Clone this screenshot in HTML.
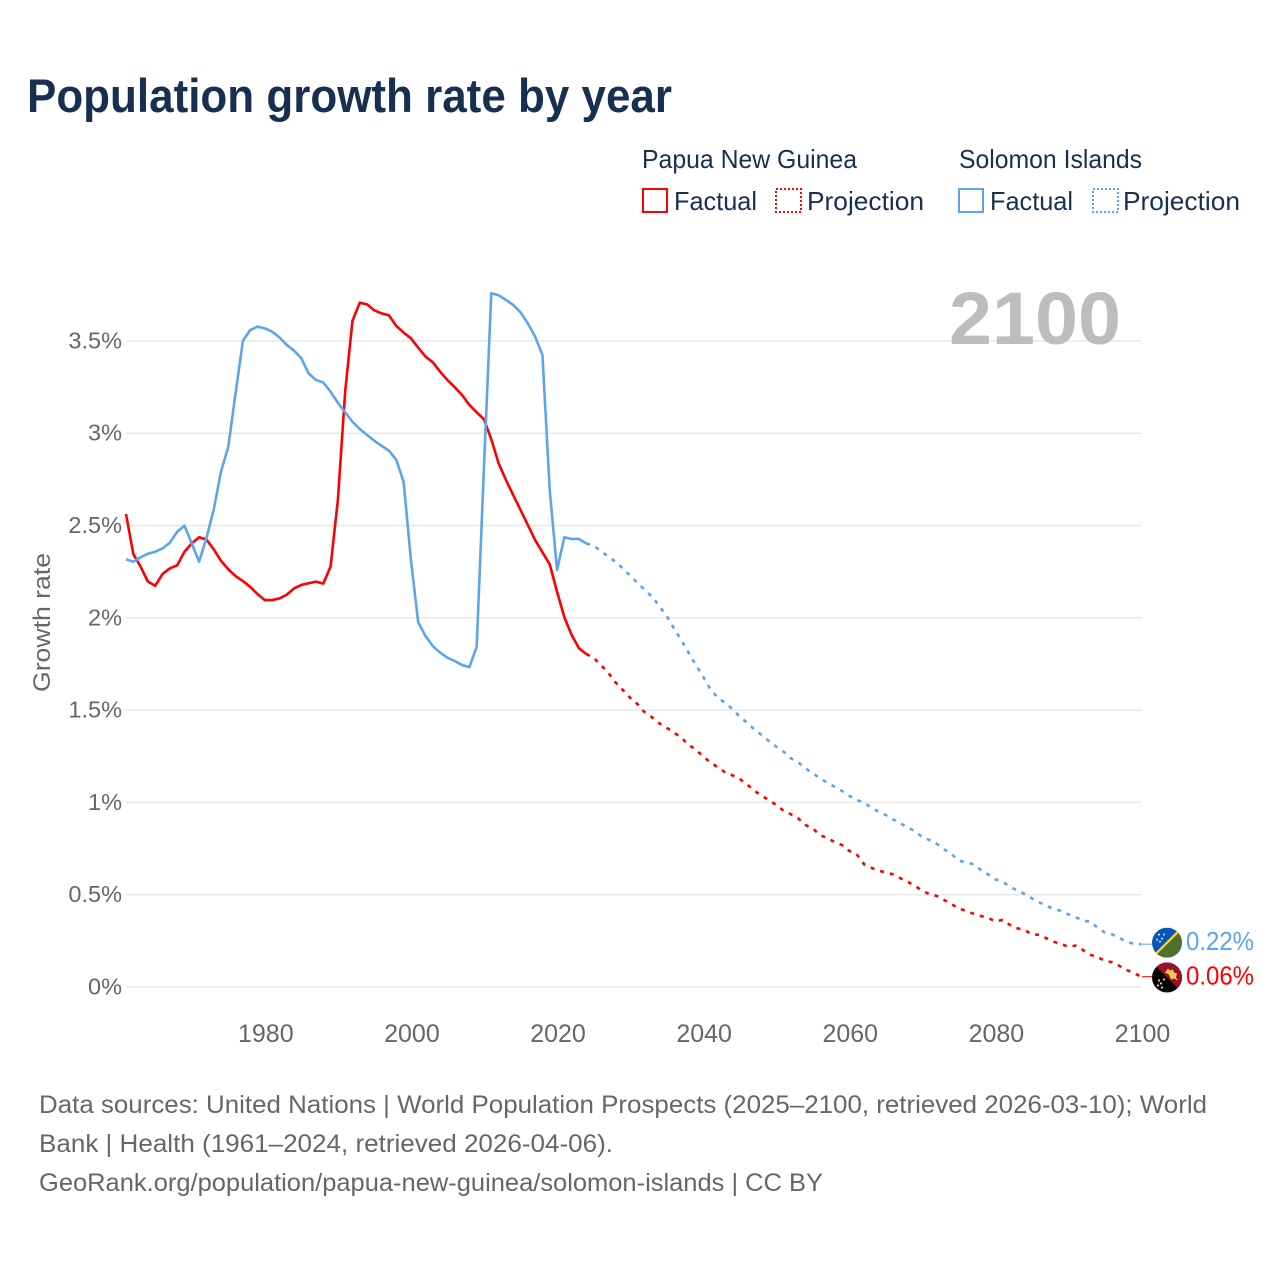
<!DOCTYPE html>
<html lang="en">
<head>
<meta charset="utf-8">
<title>Population growth rate by year</title>
<style>
  html, body { margin: 0; padding: 0; background: #fff; }
  svg { display: block; font-family: "Liberation Sans", sans-serif; }
</style>
</head>
<body>
<svg id="chart" xmlns="http://www.w3.org/2000/svg" width="1280" height="1280" viewBox="0 0 1280 1280">
  <rect width="1280" height="1280" fill="#ffffff"/>
  <text x="27" y="112" font-size="47" font-weight="700" fill="#18304f" textLength="645" lengthAdjust="spacingAndGlyphs">Population growth rate by year</text>

  <g font-size="26" fill="#18304f">
    <text x="642" y="168" textLength="215" lengthAdjust="spacingAndGlyphs">Papua New Guinea</text>
    <text x="959" y="168" textLength="183" lengthAdjust="spacingAndGlyphs">Solomon Islands</text>
    <rect x="643" y="189" width="24" height="23" fill="none" stroke="#ff0000" stroke-width="2"/>
    <text x="674" y="210" textLength="83" lengthAdjust="spacingAndGlyphs">Factual</text>
    <rect x="776" y="189" width="25" height="23" fill="none" stroke="#ff0000" stroke-width="2" stroke-dasharray="2 2"/>
    <text x="807" y="210" textLength="117" lengthAdjust="spacingAndGlyphs">Projection</text>
    <rect x="959" y="189" width="24" height="23" fill="none" stroke="#5ca5ec" stroke-width="2"/>
    <text x="990" y="210" textLength="83" lengthAdjust="spacingAndGlyphs">Factual</text>
    <rect x="1093" y="189" width="25" height="23" fill="none" stroke="#5ca5ec" stroke-width="2" stroke-dasharray="2 2"/>
    <text x="1123" y="210" textLength="117" lengthAdjust="spacingAndGlyphs">Projection</text>
  </g>

  <g id="grid"></g>
  <text x="949" y="344" font-size="74" font-weight="700" fill="#bdbdbd" textLength="172" lengthAdjust="spacingAndGlyphs">2100</text>
  <g id="yticks" font-size="23.5" fill="#666666" text-anchor="end"></g>
  <g id="xticks" font-size="25" fill="#666666" text-anchor="middle"></g>
  <text transform="translate(50 692) rotate(-90)" font-size="24" fill="#666666" textLength="139" lengthAdjust="spacingAndGlyphs">Growth rate</text>
  <g id="lines" fill="none" stroke-width="2.6" stroke-linejoin="round"></g>

  <defs>
    <clipPath id="flag-clip"><circle cx="0" cy="0" r="15"/></clipPath>
  </defs>
  <g id="flag-si">
    <g clip-path="url(#flag-clip)">
      <rect x="-15" y="-15" width="30" height="30" fill="#0a55b8"/>
      <polygon points="15,-15 15,15 -15,15" fill="#4d722c"/>
      <line x1="-15" y1="15" x2="15" y2="-15" stroke="#f5d53a" stroke-width="2.2"/>
      <circle cx="-8" cy="-8" r="1" fill="#dfe9f5"/><circle cx="-3" cy="-8" r="1" fill="#dfe9f5"/>
      <circle cx="-10" cy="-3" r="1" fill="#dfe9f5"/><circle cx="-5" cy="-4" r="1" fill="#dfe9f5"/><circle cx="-7" cy="-1" r="1" fill="#dfe9f5"/>
    </g>
  </g>
  <g id="flag-png">
    <g clip-path="url(#flag-clip)">
      <rect x="-15" y="-15" width="30" height="30" fill="#050505"/>
      <polygon points="-15,-15 15,-15 15,15" fill="#98102e"/>
      <polygon points="-2,-5 1,-9 3,-7 6,-8 7,-5 10,-4 9,0 11,3 7,1 4,2 2,-3" fill="#f2c84b"/>
      <circle cx="-8" cy="3" r="1.1" fill="#d5d5d5"/><circle cx="-3" cy="2" r="1.1" fill="#d5d5d5"/>
      <circle cx="-6" cy="6" r="1.1" fill="#d5d5d5"/><circle cx="-9" cy="8" r="1.1" fill="#d5d5d5"/><circle cx="-5" cy="10" r="1.1" fill="#d5d5d5"/>
    </g>
  </g>
  <g id="end-labels" font-size="26"></g>

  <g font-size="25" fill="#666666">
    <text x="39" y="1113" textLength="1168" lengthAdjust="spacingAndGlyphs">Data sources: United Nations | World Population Prospects (2025–2100, retrieved 2026-03-10); World</text>
    <text x="39" y="1152" textLength="574" lengthAdjust="spacingAndGlyphs">Bank | Health (1961–2024, retrieved 2026-04-06).</text>
    <text x="39" y="1191" textLength="784" lengthAdjust="spacingAndGlyphs">GeoRank.org/population/papua-new-guinea/solomon-islands | CC BY</text>
  </g>
</svg>
<script>
const factualYears = [1961,1962,1963,1964,1965,1966,1967,1968,1969,1970,1971,1972,1973,1974,1975,1976,1977,1978,1979,1980,1981,1982,1983,1984,1985,1986,1987,1988,1989,1990,1991,1992,1993,1994,1995,1996,1997,1998,1999,2000,2001,2002,2003,2004,2005,2006,2007,2008,2009,2010,2011,2012,2013,2014,2015,2016,2017,2018,2019,2020,2021,2022,2023,2024];
const projectionYears = [2024,2025,2026,2027,2028,2029,2030,2031,2032,2033,2034,2035,2036,2037,2038,2039,2040,2041,2042,2043,2044,2045,2046,2047,2048,2049,2050,2051,2052,2053,2054,2055,2056,2057,2058,2059,2060,2061,2062,2063,2064,2065,2066,2067,2068,2069,2070,2071,2072,2073,2074,2075,2076,2077,2078,2079,2080,2081,2082,2083,2084,2085,2086,2087,2088,2089,2090,2091,2092,2093,2094,2095,2096,2097,2098,2099,2100];
const pngFactual = [2.562,2.346,2.277,2.196,2.174,2.237,2.268,2.284,2.358,2.403,2.436,2.425,2.371,2.309,2.263,2.226,2.199,2.168,2.129,2.096,2.096,2.105,2.125,2.159,2.178,2.187,2.196,2.185,2.277,2.638,3.225,3.609,3.707,3.698,3.665,3.649,3.638,3.581,3.545,3.514,3.463,3.415,3.384,3.333,3.288,3.249,3.207,3.153,3.113,3.075,2.967,2.837,2.747,2.665,2.584,2.503,2.421,2.355,2.29,2.141,2.003,1.907,1.835,1.804];
const pngProjection = [1.804,1.784,1.744,1.703,1.65,1.609,1.567,1.533,1.488,1.461,1.428,1.405,1.378,1.352,1.311,1.287,1.248,1.217,1.19,1.163,1.147,1.127,1.098,1.063,1.036,1.013,0.986,0.955,0.936,0.914,0.878,0.859,0.823,0.807,0.785,0.769,0.737,0.72,0.666,0.646,0.63,0.621,0.61,0.589,0.57,0.547,0.522,0.502,0.493,0.471,0.448,0.426,0.412,0.397,0.385,0.374,0.356,0.363,0.336,0.318,0.309,0.285,0.283,0.264,0.245,0.233,0.218,0.224,0.2,0.175,0.161,0.142,0.134,0.114,0.092,0.074,0.056];
const siFactual = [2.317,2.304,2.328,2.347,2.358,2.376,2.407,2.466,2.499,2.403,2.304,2.431,2.584,2.792,2.927,3.216,3.5,3.559,3.577,3.568,3.55,3.519,3.478,3.447,3.406,3.324,3.288,3.275,3.225,3.165,3.113,3.062,3.023,2.99,2.959,2.931,2.905,2.855,2.737,2.313,1.975,1.901,1.847,1.811,1.784,1.766,1.744,1.733,1.843,2.819,3.758,3.747,3.722,3.695,3.655,3.595,3.523,3.424,2.692,2.259,2.436,2.427,2.427,2.403];
const siProjection = [2.403,2.39,2.363,2.331,2.304,2.268,2.228,2.19,2.151,2.114,2.064,2.01,1.943,1.88,1.811,1.744,1.681,1.613,1.567,1.54,1.506,1.464,1.432,1.396,1.365,1.333,1.302,1.275,1.239,1.217,1.185,1.158,1.13,1.107,1.085,1.062,1.036,1.013,1.0,0.971,0.95,0.932,0.908,0.887,0.863,0.845,0.811,0.796,0.775,0.746,0.72,0.684,0.675,0.665,0.634,0.61,0.583,0.57,0.543,0.522,0.504,0.48,0.459,0.439,0.423,0.412,0.394,0.378,0.359,0.354,0.321,0.294,0.285,0.264,0.245,0.233,0.232];
const yTickValues = [0,0.5,1,1.5,2,2.5,3,3.5];
const yTickLabels = ["0%","0.5%","1%","1.5%","2%","2.5%","3%","3.5%"];
const xTickValues = [1980,2000,2020,2040,2060,2080,2100];
const xTickLabels = ["1980","2000","2020","2040","2060","2080","2100"];
const endValueLabels = ["0.22%","0.06%"];

const RED = "#ff0000";
const BLUE = "#5ca5ec";
function xScale(year) { return 126 + (year - 1961) * (1141.5 - 126) / (2100 - 1961); }
function yScale(value) { return 987 - value * 184.6; }
const NS = "http://www.w3.org/2000/svg";
function mk(tag, attrs, parent, text) {
  const el = document.createElementNS(NS, tag);
  for (const k in attrs) el.setAttribute(k, attrs[k]);
  if (text !== undefined) el.textContent = text;
  parent.appendChild(el);
  return el;
}
function pathFrom(years, values) {
  return values.map((v, i) => (i ? "L" : "M") + xScale(years[i]).toFixed(2) + " " + yScale(v).toFixed(2)).join("");
}

const gridGroup = document.getElementById("grid");
const yGroup = document.getElementById("yticks");
yTickValues.forEach((v, i) => {
  const line = mk("line", { x1: 126, x2: 1141.5, y1: yScale(v), y2: yScale(v), stroke: "#e8e8e8", "stroke-width": 1.5 }, gridGroup);
  
  
  const label = mk("text", { x: 122, y: yScale(v) + 7.5 }, yGroup, yTickLabels[i]);
  
  
});
const xGroup = document.getElementById("xticks");
xTickValues.forEach((v, i) => {
  const label = mk("text", { x: xScale(v) + 1, y: 1042 }, xGroup, xTickLabels[i]);
  
  
});

const lineGroup = document.getElementById("lines");
const pngFactualLine = mk("path", { d: pathFrom(factualYears, pngFactual), stroke: RED }, lineGroup);


const siFactualLine = mk("path", { d: pathFrom(factualYears, siFactual), stroke: BLUE }, lineGroup);


const pngProjectionLine = mk("path", { d: pathFrom(projectionYears, pngProjection), stroke: RED, "stroke-dasharray": "4 6" }, lineGroup);


const siProjectionLine = mk("path", { d: pathFrom(projectionYears, siProjection), stroke: BLUE, "stroke-dasharray": "4 6" }, lineGroup);



const siEndY = yScale(siProjection[siProjection.length - 1]);
const pngEndY = yScale(pngProjection[pngProjection.length - 1]);
const siMarkerY = siEndY - 1.5;
const pngMarkerY = pngEndY + 0.8;
document.getElementById("flag-si").setAttribute("transform", "translate(1167 " + siMarkerY + ")");
document.getElementById("flag-png").setAttribute("transform", "translate(1167 " + pngMarkerY + ")");

const siConnector = mk("path", { d: "M1142 " + siEndY + "H1152", stroke: BLUE, "stroke-width": 1, fill: "none" }, lineGroup);


const pngConnector = mk("path", { d: "M1142 " + pngEndY + "H1152", stroke: RED, "stroke-width": 1, fill: "none" }, lineGroup);



const endGroup = document.getElementById("end-labels");
const siEndLabel = mk("text", { x: 1186, y: siMarkerY + 7.5, fill: BLUE, textLength: 68, lengthAdjust: "spacingAndGlyphs" }, endGroup, endValueLabels[0]);


const pngEndLabel = mk("text", { x: 1186, y: pngMarkerY + 7, fill: RED, textLength: 68, lengthAdjust: "spacingAndGlyphs" }, endGroup, endValueLabels[1]);


</script>
</body>
</html>
